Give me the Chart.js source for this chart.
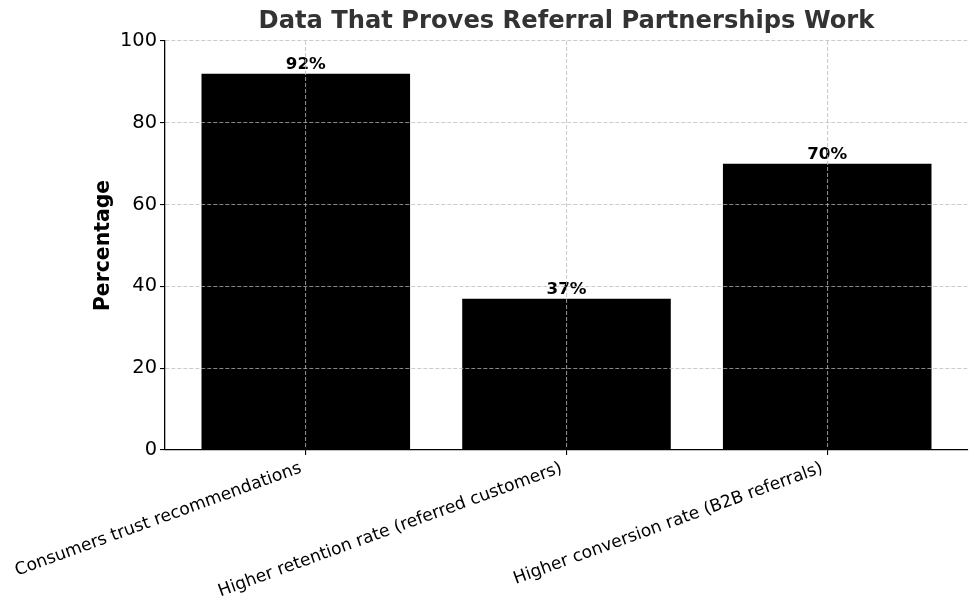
<!DOCTYPE html>
<html>
<head>
<meta charset="utf-8">
<script src="https://cdn.jsdelivr.net/npm/chart.js@4"></script>
<style>
  html, body { margin: 0; padding: 0; background: #fff; }
  #wrap { width: 980px; height: 611px; position: relative; }
</style>
</head>
<body>
<div id="wrap"><canvas id="chart"></canvas></div>
<script>
const titleText = 'Data That Proves Referral Partnerships Work'
const categories = [
  'Consumers trust recommendations',
  'Higher retention rate (referred customers)',
  'Higher conversion rate (B2B referrals)'
]
const percentages = [92, 37, 70]
const yTicks = [0, 20, 40, 60, 80, 100]

const FONT = "'DejaVu Sans', sans-serif"
const gridColor = 'rgba(185,185,185,0.73)'

// title centred over the plot area, like matplotlib does
const titlePlugin = {
  id: 'plotTitle',
  afterDraw(chart) {
    const { ctx, chartArea } = chart
    ctx.save()
    ctx.font = `bold 24.2px ${FONT}`
    ctx.fillStyle = '#333'
    ctx.textAlign = 'center'
    ctx.textBaseline = 'middle'
    ctx.fillText(titleText, (chartArea.left + chartArea.right) / 2, 22)
    ctx.restore()
  }
}

const valueLabels = {
  id: 'valueLabels',
  afterDatasetsDraw(chart) {
    const { ctx } = chart
    const meta = chart.getDatasetMeta(0)
    ctx.save()
    ctx.font = `bold 16.7px ${FONT}`
    ctx.fillStyle = '#000'
    ctx.textAlign = 'center'
    ctx.textBaseline = 'bottom'
    meta.data.forEach((bar, i) => {
      ctx.fillText(percentages[i] + '%', bar.x, bar.y - 1)
    })
    ctx.restore()
  }
}

const ctx = document.getElementById('chart').getContext('2d')
new Chart(ctx, {
  type: 'bar',
  data: {
    datasets: [{
      data: percentages.map((v, i) => ({ x: i, y: v })),
      backgroundColor: '#000',
      borderWidth: 0,
      barPercentage: 0.8,
      categoryPercentage: 1
    }]
  },
  options: {
    responsive: true,
    maintainAspectRatio: false,
    animation: false,
    layout: { padding: { top: 41, right: 12, left: 0, bottom: 0 } },
    plugins: {
      legend: { display: false },
      tooltip: { enabled: false }
    },
    scales: {
      x: {
        type: 'linear',
        min: -0.54,
        max: 2.54,
        offset: false,
        afterBuildTicks: (scale) => {
          scale.ticks = categories.map((c, i) => ({ value: i }))
        },
        afterFit: (scale) => {
          scale.height = 161
          // rotated labels would otherwise push the plot area right
          scale.paddingLeft = 0
          scale.paddingRight = 0
        },
        ticks: {
          callback: (v) => categories[v],
          minRotation: 20,
          maxRotation: 20,
          autoSkip: false,
          padding: 3,
          labelOffset: -5,
          color: '#000',
          font: { family: FONT, size: 17.2 }
        },
        grid: {
          z: 1,
          offset: false,
          color: gridColor,
          lineWidth: 1.1,
          tickColor: '#000',
          tickLength: 5,
          tickWidth: 1.1
        },
        border: { z: 2, color: '#000', width: 1.3, dash: [4, 2] }
      },
      y: {
        min: 0,
        max: 100,
        afterBuildTicks: (scale) => {
          scale.ticks = yTicks.map(v => ({ value: v }))
        },
        afterFit: (scale) => { scale.width = 165 },
        ticks: {
          padding: 3,
          color: '#000',
          font: { family: FONT, size: 19.4 }
        },
        title: {
          display: true,
          text: 'Percentage',
          color: '#000',
          padding: { top: 91, bottom: 0 },
          font: { family: FONT, size: 20.4, weight: 'bold' }
        },
        grid: {
          z: 1,
          color: (c) => c.tick && c.tick.value === 0 ? 'rgba(0,0,0,0)' : gridColor,
          lineWidth: 1.1,
          tickColor: '#000',
          tickLength: 5,
          tickWidth: 1.1
        },
        border: { z: 2, color: '#000', width: 1.3, dash: [4, 2] }
      }
    }
  },
  plugins: [titlePlugin, valueLabels]
})
</script>
</body>
</html>
